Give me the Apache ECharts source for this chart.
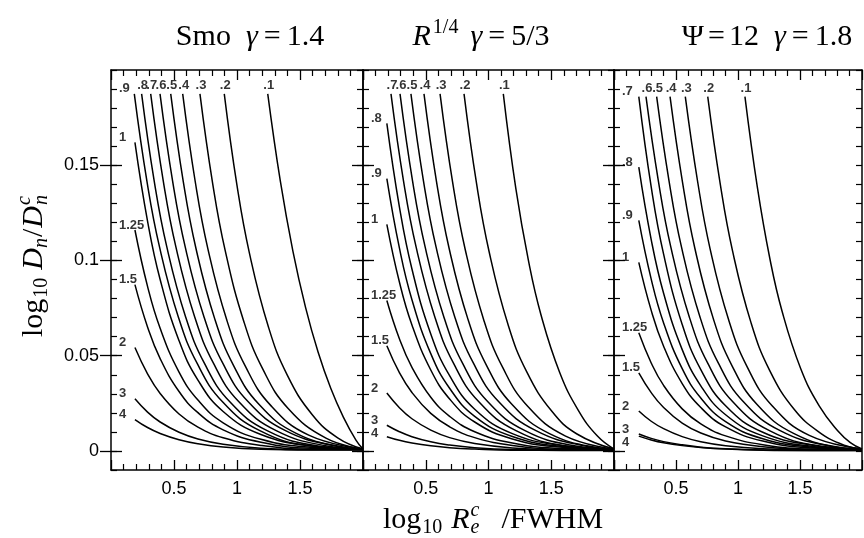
<!DOCTYPE html>
<html><head><meta charset="utf-8">
<script src="https://cdn.jsdelivr.net/npm/echarts@6/dist/echarts.min.js"></script>
<style>html,body{margin:0;padding:0;background:#fff}#c{width:864px;height:538px}</style>
</head><body><div id="c"></div><script>
// ---------- data ----------
const X_TICK_LABELS = [0.5, 1, 1.5];
const Y_TICK_LABELS = [0, 0.05, 0.1, 0.15];

// Panel 1: Smo gamma=1.4
const smoLabels = ['.9','.8','.7','.6','.5','.4','.3','.2','.1','1','1.25','1.5','2','3','4'];
const smoCurves = [
 [[.185,.1875],[.285,.1417],[.385,.1071],[.535,.0702],[.685,.0458],[.885,.0258],[1.185,.0105],[1.585,.0026],[2,.001]],
 [[.243,.1875],[.343,.1417],[.443,.1071],[.593,.0702],[.743,.0458],[.943,.0258],[1.243,.0105],[1.643,.0026],[2,.001]],
 [[.315,.1875],[.415,.1417],[.515,.1071],[.665,.0702],[.815,.0458],[1.015,.0258],[1.315,.0105],[1.715,.0026],[2,.001]],
 [[.389,.1875],[.489,.1417],[.589,.1071],[.739,.0702],[.889,.0458],[1.089,.0258],[1.389,.0105],[1.789,.0024],[2,.001]],
 [[.474,.1875],[.574,.1413],[.674,.1064],[.824,.0692],[.974,.0447],[1.174,.0245],[1.474,.0091],[1.874,.0017],[2,.001]],
 [[.569,.1875],[.669,.1412],[.769,.1061],[.919,.0687],[1.069,.0441],[1.269,.0238],[1.569,.0083],[2,.001]],
 [[.706,.1875],[.806,.1408],[.906,.1053],[1.056,.0676],[1.206,.0428],[1.406,.0223],[1.706,.0067],[2,.001]],
 [[.899,.1875],[.999,.1398],[1.099,.1037],[1.249,.0652],[1.399,.0398],[1.599,.0189],[1.799,.0069],[2,.001]],
 [[1.244,.1875],[1.344,.1416],[1.444,.1048],[1.544,.0754],[1.644,.0518],[1.744,.0329],[1.844,.0178],[1.944,.0057],[2,.001]],
 [[.19,.162],[.29,.1207],[.39,.09],[.54,.0579],[.69,.0372],[.89,.0207],[1.19,.0086],[1.59,.0026],[2,.001]],
 [[.19,.116],[.29,.0864],[.39,.0644],[.54,.0414],[.69,.0267],[.89,.0148],[1.19,.0061],[1.59,.0019],[2,.001]],
 [[.19,.0873],[.29,.0651],[.39,.0485],[.54,.0312],[.69,.0201],[.89,.0111],[1.19,.0046],[1.59,.0014],[2,.001]],
 [[.19,.0543],[.29,.0405],[.39,.0302],[.54,.0194],[.69,.0125],[.89,.0069],[1.19,.0029],[1.59,.0009],[2,.0008]],
 [[.19,.0274],[.29,.0204],[.39,.0152],[.54,.0098],[.69,.0063],[.89,.0035],[1.19,.0014],[1.59,.0006],[2,.0006]],
 [[.19,.0165],[.29,.0123],[.39,.0092],[.54,.0059],[.69,.0038],[.89,.0021],[1.19,.0009],[1.59,.0005],[2,.0005]]
];

// Panel 2: R^1/4 gamma=5/3
const r14Labels = ['.7','.6','.5','.4','.3','.2','.1','.8','.9','1','1.25','1.5','2','3','4'];
const r14Curves = [
 [[.223,.1875],[.323,.1417],[.423,.1071],[.573,.0702],[.723,.0458],[.923,.0258],[1.223,.0105],[1.623,.0026],[2,.001]],
 [[.295,.1875],[.395,.1417],[.495,.1071],[.645,.0702],[.795,.0458],[.995,.0258],[1.295,.0105],[1.695,.0026],[2,.001]],
 [[.382,.1875],[.482,.1417],[.582,.1071],[.732,.0702],[.882,.0458],[1.082,.0258],[1.382,.0105],[1.782,.0024],[2,.001]],
 [[.486,.1875],[.586,.1413],[.686,.1064],[.836,.0692],[.986,.0447],[1.186,.0245],[1.486,.0091],[1.886,.0016],[2,.001]],
 [[.614,.1875],[.714,.1411],[.814,.1059],[.964,.0684],[1.114,.0437],[1.314,.0233],[1.614,.0078],[2,.001]],
 [[.805,.1875],[.905,.1403],[1.005,.1046],[1.155,.0665],[1.305,.0415],[1.505,.0208],[1.705,.0089],[2,.001]],
 [[1.118,.1875],[1.218,.1377],[1.318,.1],[1.418,.0715],[1.568,.0411],[1.718,.0211],[1.868,.0078],[2,.001]],
 [[.19,.172],[.29,.1282],[.39,.0955],[.54,.0614],[.69,.0395],[.89,.0219],[1.19,.0091],[1.59,.0028],[2,.001]],
 [[.19,.143],[.29,.1066],[.39,.0794],[.54,.0511],[.69,.0329],[.89,.0182],[1.19,.0076],[1.59,.0023],[2,.001]],
 [[.19,.119],[.29,.0887],[.39,.0661],[.54,.0425],[.69,.0273],[.89,.0152],[1.19,.0063],[1.59,.0019],[2,.001]],
 [[.19,.079],[.29,.0589],[.39,.0439],[.54,.0282],[.69,.0182],[.89,.0101],[1.19,.0042],[1.59,.0013],[2,.001]],
 [[.19,.0552],[.29,.0411],[.39,.0307],[.54,.0197],[.69,.0127],[.89,.007],[1.19,.0029],[1.59,.0009],[2,.0008]],
 [[.19,.0304],[.29,.0227],[.39,.0169],[.54,.0109],[.69,.007],[.89,.0039],[1.19,.0016],[1.59,.0006],[2,.0006]],
 [[.19,.0135],[.29,.0101],[.39,.0075],[.54,.0048],[.69,.0031],[.89,.0017],[1.19,.0007],[1.59,.0004],[2,.0004]],
 [[.19,.0075],[.29,.0056],[.39,.0042],[.54,.0027],[.69,.0017],[.89,.001],[1.19,.0004],[1.59,.0003],[2,.0003]]
];

// Panel 3: Psi=12 gamma=1.8
const psiLabels = ['.6','.5','.4','.3','.2','.1','.7','.8','.9','1','1.25','1.5','2','3','4'];
const psiCurves = [
 [[.258,.186],[.358,.1417],[.458,.1071],[.608,.0702],[.758,.0458],[.958,.0258],[1.258,.0105],[1.658,.0026],[2,.001]],
 [[.344,.186],[.444,.1417],[.544,.1071],[.694,.0702],[.844,.0458],[1.044,.0258],[1.344,.0105],[1.744,.0025],[2,.001]],
 [[.452,.186],[.552,.1413],[.652,.1064],[.802,.0692],[.952,.0447],[1.152,.0245],[1.452,.0091],[1.852,.0016],[2,.001]],
 [[.575,.186],[.675,.1412],[.775,.1061],[.925,.0687],[1.075,.044],[1.275,.0237],[1.575,.0082],[2,.001]],
 [[.756,.186],[.856,.1405],[.956,.105],[1.106,.0671],[1.256,.0422],[1.456,.0216],[1.656,.0098],[1.856,.003],[2,.001]],
 [[1.056,.186],[1.156,.1385],[1.256,.1013],[1.356,.0732],[1.506,.0432],[1.656,.0235],[1.806,.0105],[1.906,.0044],[2,.001]],
 [[.2,.186],[.3,.1386],[.4,.1033],[.55,.0664],[.7,.0427],[.9,.0237],[1.2,.0098],[1.6,.003],[2,.001]],
 [[.2,.149],[.3,.111],[.4,.0828],[.55,.0532],[.7,.0342],[.9,.019],[1.2,.0079],[1.6,.0024],[2,.001]],
 [[.2,.121],[.3,.0902],[.4,.0672],[.55,.0432],[.7,.0278],[.9,.0154],[1.2,.0064],[1.6,.002],[2,.001]],
 [[.2,.099],[.3,.0738],[.4,.055],[.55,.0354],[.7,.0228],[.9,.0126],[1.2,.0052],[1.6,.0016],[2,.001]],
 [[.2,.062],[.3,.0462],[.4,.0344],[.55,.0221],[.7,.0142],[.9,.0079],[1.2,.0033],[1.6,.001],[2,.0008]],
 [[.2,.041],[.3,.0306],[.4,.0228],[.55,.0146],[.7,.0094],[.9,.0052],[1.2,.0022],[1.6,.0007],[2,.0006]],
 [[.2,.021],[.3,.0156],[.4,.0117],[.55,.0075],[.7,.0048],[.9,.0027],[1.2,.0011],[1.6,.0004],[2,.0004]],
 [[.2,.0089],[.3,.0066],[.4,.0049],[.55,.0032],[.7,.002],[.9,.0011],[1.2,.0005],[1.6,.0003],[2,.0003]],
 [[.2,.0078],[.3,.0058],[.4,.0043],[.55,.0028],[.7,.0018],[.9,.001],[1.2,.0004],[1.6,.0002],[2,.0002]]
];

// ---------- layout ----------
const panels = [
  {curves: smoCurves, labels: smoLabels, left: 111, width: 252},
  {curves: r14Curves, labels: r14Labels, left: 363, width: 251},
  {curves: psiCurves, labels: psiLabels, left: 614, width: 248}
];
const BLACK = '#000';
const TOP = 70, HEIGHT = 400, YMIN = -0.01, YMAX = 0.2, XMAX = 2;
const PX_PER_Y = HEIGHT / (YMAX - YMIN);

const grid = [], xAxis = [], yAxis = [], series = [];
panels.forEach((p, i) => {
  grid.push({left: p.left, top: TOP, width: p.width, height: HEIGHT, containLabel: false});
  ['bottom', 'top'].forEach(pos => {
    xAxis.push({
      type: 'value', gridIndex: i, position: pos, min: 0, max: XMAX, interval: 0.5,
      axisLine: {show: true, onZero: false, lineStyle: {color: BLACK, width: 1.5}},
      axisTick: {show: true, inside: true, length: 10, lineStyle: {color: BLACK, width: 1.3}},
      minorTick: {show: true, splitNumber: 5, length: 6, lineStyle: {color: BLACK, width: 1.2}},
      axisLabel: {show: pos === 'bottom', customValues: X_TICK_LABELS, color: BLACK,
        fontFamily: 'Liberation Sans', fontSize: 18, margin: 10, formatter: v => String(v)},
      splitLine: {show: false}, minorSplitLine: {show: false}
    });
  });
  ['left', 'right'].forEach(pos => {
    yAxis.push({
      type: 'value', gridIndex: i, position: pos, min: YMIN, max: YMAX, interval: 0.01,
      axisLine: {show: true, onZero: false, lineStyle: {color: BLACK, width: 1.5}},
      axisTick: {show: true, inside: true, length: 6, lineStyle: {color: BLACK, width: 1.2}},
      axisLabel: {show: false}, splitLine: {show: false}
    });
    yAxis.push({
      type: 'value', gridIndex: i, position: pos, min: YMIN, max: YMAX, interval: 0.01,
      axisLine: {show: false},
      axisTick: {show: true, inside: true, length: 11, customValues: Y_TICK_LABELS, lineStyle: {color: BLACK, width: 1.3}},
      axisLabel: {show: i === 0 && pos === 'left', customValues: Y_TICK_LABELS, color: BLACK,
        fontFamily: 'Liberation Sans', fontSize: 18, margin: 12, formatter: v => String(v)},
      splitLine: {show: false}
    });
  });
  const labelData = [];
  let lastLeftPx = -1e9;
  p.curves.forEach((c, j) => {
    series.push({
      type: 'line', xAxisIndex: 2 * i, yAxisIndex: 4 * i, data: c,
      showSymbol: false, symbol: 'none', smooth: 0.45,
      lineStyle: {color: BLACK, width: 1.5}, silent: true, animation: false, z: 3
    });
    const s = c[0];
    const top = s[1] >= 0.185 && s[0] > 0.21;
    let lab;
    if (top) {
      lab = {position: 'inside', align: 'center', verticalAlign: 'bottom', offset: [1, -2], formatter: p.labels[j]};
    } else {
      const startPx = s[0] / XMAX * p.width;
      const wanted = (YMAX - s[1]) * PX_PER_Y - 5;
      let py = wanted;
      if (py < lastLeftPx + 13) py = lastLeftPx + 13;
      lastLeftPx = py;
      lab = {position: 'inside', align: 'left', verticalAlign: 'middle',
             offset: [8 - startPx, py - wanted - 5], formatter: p.labels[j]};
    }
    labelData.push({value: s, label: lab});
  });
  series.push({
    type: 'scatter', xAxisIndex: 2 * i, yAxisIndex: 4 * i, data: labelData,
    symbolSize: 1, itemStyle: {color: 'rgba(0,0,0,0)'}, silent: true, animation: false, z: 4,
    label: {show: true, color: BLACK, fontFamily: 'Liberation Sans', fontWeight: 'bold', fontSize: 13}
  });
});

// ---------- math-like texts ----------
const mctx = document.createElement('canvas').getContext('2d');
const SERIF = '"Liberation Serif"';
function fstr(p) { return (p.italic ? 'italic ' : '') + (p.size || 30) + 'px ' + SERIF; }
function textRow(pieces, cx, cy, rot) {
  let x = 0; const kids = [];
  pieces.forEach(p => {
    mctx.font = fstr(p);
    const w = mctx.measureText(p.t).width;
    kids.push({type: 'text', x: x, y: p.dy || 0,
      style: {text: p.t, font: fstr(p), fill: BLACK, textAlign: 'left', textVerticalAlign: 'middle'}});
    if (!p.stack) x += w + (p.gap || 0);
  });
  kids.forEach(k => { k.x -= x / 2; });
  return {type: 'group', x: cx, y: cy, rotation: rot || 0, silent: true, children: kids};
}
const graphic = [
  textRow([{t: 'Smo', gap: 15}, {t: 'γ', italic: true, gap: 6}, {t: '=', gap: 6}, {t: '1.4'}], 250, 37),
  textRow([{t: 'R', italic: true, gap: 2}, {t: '1/4', size: 20, dy: -9, gap: 12}, {t: 'γ', italic: true, gap: 6}, {t: '=', gap: 6}, {t: '5/3'}], 481, 37),
  textRow([{t: 'Ψ', gap: 4}, {t: '=', gap: 4}, {t: '12', gap: 15}, {t: 'γ', italic: true, gap: 6}, {t: '=', gap: 6}, {t: '1.8'}], 767, 37),
  textRow([{t: 'log', gap: 1}, {t: '10', size: 20, dy: 8, gap: 9}, {t: 'R', italic: true, gap: 1},
           {t: 'c', italic: true, size: 20, dy: -9, stack: true}, {t: 'e', italic: true, size: 20, dy: 8, gap: 22}, {t: '/FWHM'}], 493, 520),
  textRow([{t: 'log', gap: 1}, {t: '10', size: 20, dy: 8, gap: 8}, {t: 'D', italic: true}, {t: 'n', italic: true, size: 20, dy: 8, gap: 1},
           {t: '/', gap: 1}, {t: 'D', italic: true, gap: 1}, {t: 'c', italic: true, size: 20, dy: -9, stack: true}, {t: 'n', italic: true, size: 20, dy: 8}], 34, 266, Math.PI / 2)
];

const chart = echarts.init(document.getElementById('c'), null, {renderer: 'canvas'});
chart.setOption({backgroundColor: '#fff', animation: false, grid, xAxis, yAxis, series, graphic});
</script></body></html>
